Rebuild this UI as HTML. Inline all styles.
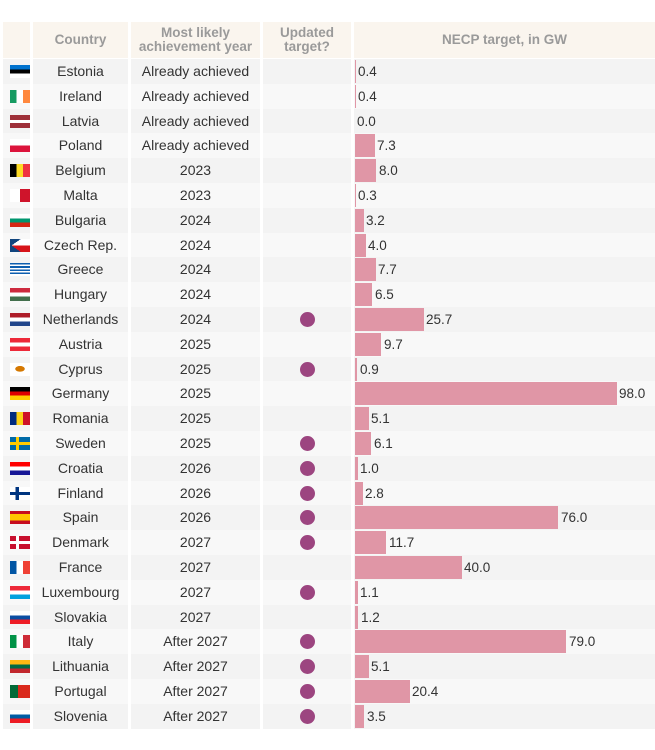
<!DOCTYPE html><html><head><meta charset="utf-8"><style>
body{margin:0;width:655px;height:750px;background:#fff;font-family:"Liberation Sans",Arial,sans-serif;position:relative;overflow:hidden}
.hd{position:absolute;top:22px;height:36px;background:#faf5ee;color:#9a9a9a;font-weight:bold;font-size:13.5px;text-align:center;display:flex;align-items:center;justify-content:center;line-height:14px}
.r{position:absolute;left:0;height:24.8px;width:655px}
.c{position:absolute;top:0;height:100%;font-size:14px;color:#333;text-align:center;line-height:25px}
.f{position:absolute;left:7px;top:6px;width:20px;height:13px}
.b{position:absolute;left:355px;top:1px;height:23px;background:#e096a6}
.v{position:absolute;top:0;font-size:13.5px;color:#333;line-height:25px}
.d{position:absolute;left:300px;top:5px;width:15px;height:15px;border-radius:50%;background:#9c4580}
.r>.c0{left:3px;width:27px}.r>.c1{left:33px;width:95px}.r>.c2{left:131px;width:129px}.r>.c3{left:263px;width:88px}.r>.c4{left:354px;width:301px}
.r.o .c{background:#f3f3f3}.r.e .c{background:#f8f8f8}
</style></head><body>
<div class="hd" style="left:3px;width:27px"></div>
<div class="hd" style="left:33px;width:95px">Country</div>
<div class="hd" style="left:131px;width:129px">Most likely<br>achievement year</div>
<div class="hd" style="left:263px;width:88px">Updated<br>target?</div>
<div class="hd" style="left:354px;width:301px">NECP target, in GW</div>
<div class="r o" style="top:59px"><div class="c c0"><div class="f" style="background:linear-gradient(#0072ce 33%,#000 33% 66%,#fff 66%)"></div></div><div class="c c1">Estonia</div><div class="c c2">Already achieved</div><div class="c c3"></div><div class="c c4"></div><div class="b" style="width:1px"></div><div class="v" style="left:358px">0.4</div></div>
<div class="r e" style="top:83.8px"><div class="c c0"><div class="f" style="background:linear-gradient(90deg,#169b62 33%,#fff 33% 66%,#ff883e 66%)"></div></div><div class="c c1">Ireland</div><div class="c c2">Already achieved</div><div class="c c3"></div><div class="c c4"></div><div class="b" style="width:1px"></div><div class="v" style="left:358px">0.4</div></div>
<div class="r o" style="top:108.6px"><div class="c c0"><div class="f" style="background:linear-gradient(#9e3039 40%,#fff 40% 60%,#9e3039 60%)"></div></div><div class="c c1">Latvia</div><div class="c c2">Already achieved</div><div class="c c3"></div><div class="c c4"></div><div class="v" style="left:357px">0.0</div></div>
<div class="r e" style="top:133.4px"><div class="c c0"><div class="f" style="background:linear-gradient(#fff 50%,#dc143c 50%)"></div></div><div class="c c1">Poland</div><div class="c c2">Already achieved</div><div class="c c3"></div><div class="c c4"></div><div class="b" style="width:19.5px"></div><div class="v" style="left:377px">7.3</div></div>
<div class="r o" style="top:158.2px"><div class="c c0"><div class="f" style="background:linear-gradient(90deg,#000 33%,#fdda24 33% 66%,#ef3340 66%)"></div></div><div class="c c1">Belgium</div><div class="c c2">2023</div><div class="c c3"></div><div class="c c4"></div><div class="b" style="width:21.4px"></div><div class="v" style="left:379px">8.0</div></div>
<div class="r e" style="top:183px"><div class="c c0"><div class="f" style="background:linear-gradient(90deg,#fff 50%,#cf142b 50%)"></div></div><div class="c c1">Malta</div><div class="c c2">2023</div><div class="c c3"></div><div class="c c4"></div><div class="b" style="width:1px"></div><div class="v" style="left:358px">0.3</div></div>
<div class="r o" style="top:207.8px"><div class="c c0"><div class="f" style="background:linear-gradient(#fff 33%,#00966e 33% 66%,#d62612 66%)"></div></div><div class="c c1">Bulgaria</div><div class="c c2">2024</div><div class="c c3"></div><div class="c c4"></div><div class="b" style="width:8.5px"></div><div class="v" style="left:366px">3.2</div></div>
<div class="r e" style="top:232.6px"><div class="c c0"><div class="f" style="background:linear-gradient(35deg,#11457e 28%,transparent 28%),linear-gradient(145deg,#11457e 28%,transparent 28%),linear-gradient(#fff 50%,#d7141a 50%)"></div></div><div class="c c1">Czech Rep.</div><div class="c c2">2024</div><div class="c c3"></div><div class="c c4"></div><div class="b" style="width:10.7px"></div><div class="v" style="left:368px">4.0</div></div>
<div class="r o" style="top:257.4px"><div class="c c0"><div class="f" style="background:repeating-linear-gradient(#0d5eaf 0 1.6px,#fff 1.6px 3.2px)"></div></div><div class="c c1">Greece</div><div class="c c2">2024</div><div class="c c3"></div><div class="c c4"></div><div class="b" style="width:20.6px"></div><div class="v" style="left:378px">7.7</div></div>
<div class="r e" style="top:282.2px"><div class="c c0"><div class="f" style="background:linear-gradient(#cd2a3e 33%,#fff 33% 66%,#436f4d 66%)"></div></div><div class="c c1">Hungary</div><div class="c c2">2024</div><div class="c c3"></div><div class="c c4"></div><div class="b" style="width:17.4px"></div><div class="v" style="left:375px">6.5</div></div>
<div class="r o" style="top:307px"><div class="c c0"><div class="f" style="background:linear-gradient(#ae1c28 33%,#fff 33% 66%,#21468b 66%)"></div></div><div class="c c1">Netherlands</div><div class="c c2">2024</div><div class="c c3"></div><div class="c c4"></div><div class="d"></div><div class="b" style="width:68.6px"></div><div class="v" style="left:426px">25.7</div></div>
<div class="r e" style="top:331.8px"><div class="c c0"><div class="f" style="background:linear-gradient(#ed2939 33%,#fff 33% 66%,#ed2939 66%)"></div></div><div class="c c1">Austria</div><div class="c c2">2025</div><div class="c c3"></div><div class="c c4"></div><div class="b" style="width:25.9px"></div><div class="v" style="left:384px">9.7</div></div>
<div class="r o" style="top:356.6px"><div class="c c0"><div class="f" style="background:radial-gradient(ellipse 5px 3px at 50% 45%,#d57800 90%,#fff 100%)"></div></div><div class="c c1">Cyprus</div><div class="c c2">2025</div><div class="c c3"></div><div class="c c4"></div><div class="d"></div><div class="b" style="width:2.4px"></div><div class="v" style="left:360px">0.9</div></div>
<div class="r e" style="top:381.4px"><div class="c c0"><div class="f" style="background:linear-gradient(#000 33%,#dd0000 33% 66%,#ffce00 66%)"></div></div><div class="c c1">Germany</div><div class="c c2">2025</div><div class="c c3"></div><div class="c c4"></div><div class="b" style="width:262px"></div><div class="v" style="left:619px">98.0</div></div>
<div class="r o" style="top:406.2px"><div class="c c0"><div class="f" style="background:linear-gradient(90deg,#002b7f 33%,#fcd116 33% 66%,#ce1126 66%)"></div></div><div class="c c1">Romania</div><div class="c c2">2025</div><div class="c c3"></div><div class="c c4"></div><div class="b" style="width:13.6px"></div><div class="v" style="left:371px">5.1</div></div>
<div class="r e" style="top:431px"><div class="c c0"><div class="f" style="background:linear-gradient(transparent 40%,#fecc00 40% 60%,transparent 60%),linear-gradient(90deg,#006aa7 30%,#fecc00 30% 45%,#006aa7 45%)"></div></div><div class="c c1">Sweden</div><div class="c c2">2025</div><div class="c c3"></div><div class="c c4"></div><div class="d"></div><div class="b" style="width:16.3px"></div><div class="v" style="left:374px">6.1</div></div>
<div class="r o" style="top:455.8px"><div class="c c0"><div class="f" style="background:linear-gradient(#ff0000 33%,#fff 33% 66%,#171796 66%)"></div></div><div class="c c1">Croatia</div><div class="c c2">2026</div><div class="c c3"></div><div class="c c4"></div><div class="d"></div><div class="b" style="width:2.7px"></div><div class="v" style="left:360px">1.0</div></div>
<div class="r e" style="top:480.6px"><div class="c c0"><div class="f" style="background:linear-gradient(transparent 38%,#003580 38% 62%,transparent 62%),linear-gradient(90deg,#fff 28%,#003580 28% 45%,#fff 45%)"></div></div><div class="c c1">Finland</div><div class="c c2">2026</div><div class="c c3"></div><div class="c c4"></div><div class="d"></div><div class="b" style="width:7.5px"></div><div class="v" style="left:365px">2.8</div></div>
<div class="r o" style="top:505.4px"><div class="c c0"><div class="f" style="background:linear-gradient(#c60b1e 25%,#ffc400 25% 75%,#c60b1e 75%)"></div></div><div class="c c1">Spain</div><div class="c c2">2026</div><div class="c c3"></div><div class="c c4"></div><div class="d"></div><div class="b" style="width:203px"></div><div class="v" style="left:561px">76.0</div></div>
<div class="r e" style="top:530.2px"><div class="c c0"><div class="f" style="background:linear-gradient(transparent 40%,#fff 40% 60%,transparent 60%),linear-gradient(90deg,#c8102e 30%,#fff 30% 45%,#c8102e 45%)"></div></div><div class="c c1">Denmark</div><div class="c c2">2027</div><div class="c c3"></div><div class="c c4"></div><div class="d"></div><div class="b" style="width:31.2px"></div><div class="v" style="left:389px">11.7</div></div>
<div class="r o" style="top:555px"><div class="c c0"><div class="f" style="background:linear-gradient(90deg,#0055a4 33%,#fff 33% 66%,#ef4135 66%)"></div></div><div class="c c1">France</div><div class="c c2">2027</div><div class="c c3"></div><div class="c c4"></div><div class="b" style="width:106.8px"></div><div class="v" style="left:464px">40.0</div></div>
<div class="r e" style="top:579.8px"><div class="c c0"><div class="f" style="background:linear-gradient(#ed2939 33%,#fff 33% 66%,#00a1de 66%)"></div></div><div class="c c1">Luxembourg</div><div class="c c2">2027</div><div class="c c3"></div><div class="c c4"></div><div class="d"></div><div class="b" style="width:2.9px"></div><div class="v" style="left:360px">1.1</div></div>
<div class="r o" style="top:604.6px"><div class="c c0"><div class="f" style="background:linear-gradient(#fff 33%,#0b4ea2 33% 66%,#ee1c25 66%)"></div></div><div class="c c1">Slovakia</div><div class="c c2">2027</div><div class="c c3"></div><div class="c c4"></div><div class="b" style="width:3.2px"></div><div class="v" style="left:361px">1.2</div></div>
<div class="r e" style="top:629.4px"><div class="c c0"><div class="f" style="background:linear-gradient(90deg,#009246 33%,#fff 33% 66%,#ce2b37 66%)"></div></div><div class="c c1">Italy</div><div class="c c2">After 2027</div><div class="c c3"></div><div class="c c4"></div><div class="d"></div><div class="b" style="width:211px"></div><div class="v" style="left:569px">79.0</div></div>
<div class="r o" style="top:654.2px"><div class="c c0"><div class="f" style="background:linear-gradient(#fdb913 33%,#006a44 33% 66%,#c1272d 66%)"></div></div><div class="c c1">Lithuania</div><div class="c c2">After 2027</div><div class="c c3"></div><div class="c c4"></div><div class="d"></div><div class="b" style="width:13.6px"></div><div class="v" style="left:371px">5.1</div></div>
<div class="r e" style="top:679px"><div class="c c0"><div class="f" style="background:linear-gradient(90deg,#046a38 40%,#da291c 40%)"></div></div><div class="c c1">Portugal</div><div class="c c2">After 2027</div><div class="c c3"></div><div class="c c4"></div><div class="d"></div><div class="b" style="width:54.5px"></div><div class="v" style="left:412px">20.4</div></div>
<div class="r o" style="top:703.8px"><div class="c c0"><div class="f" style="background:linear-gradient(#fff 33%,#005da4 33% 66%,#ed1c24 66%)"></div></div><div class="c c1">Slovenia</div><div class="c c2">After 2027</div><div class="c c3"></div><div class="c c4"></div><div class="d"></div><div class="b" style="width:9.3px"></div><div class="v" style="left:367px">3.5</div></div>
</body></html>
